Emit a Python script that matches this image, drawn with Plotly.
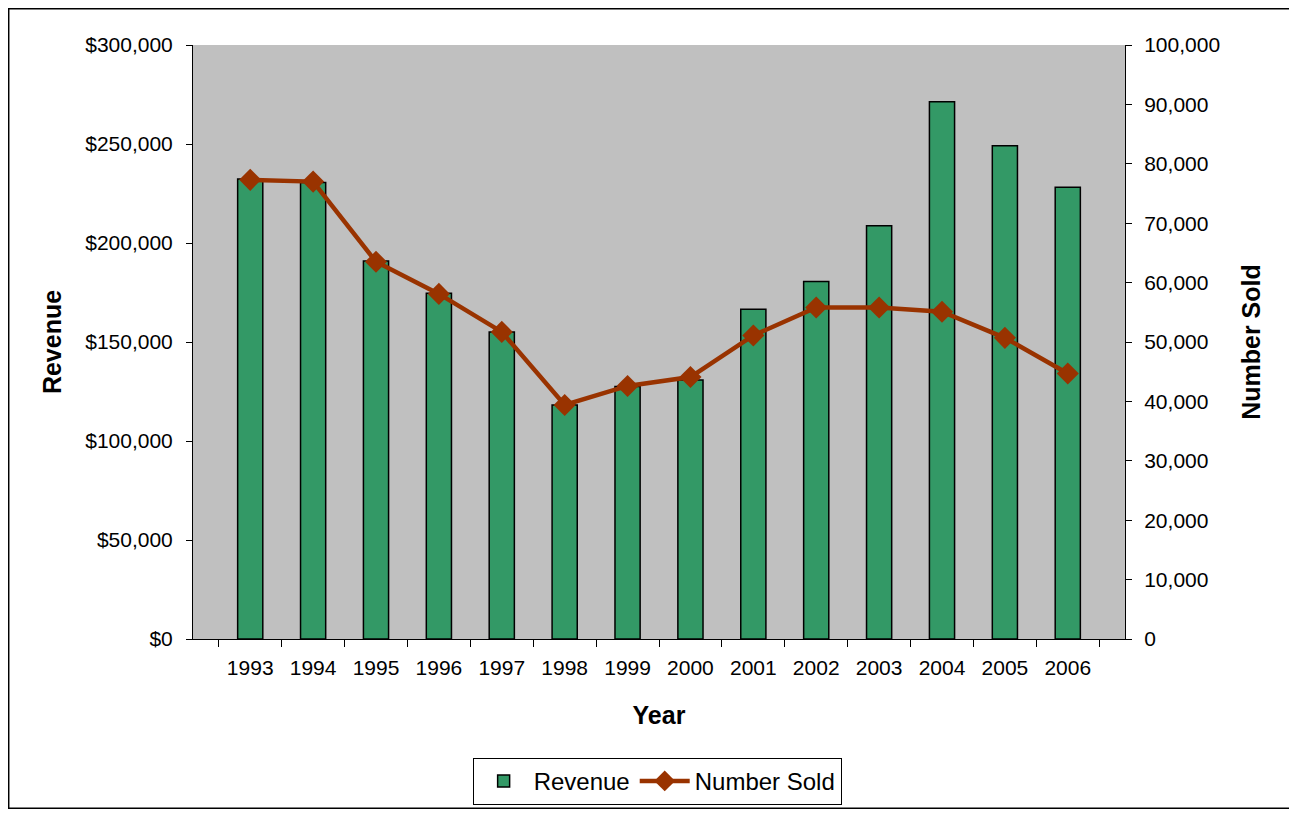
import plotly.graph_objects as go

# --- Data ---
years = ["1993", "1994", "1995", "1996", "1997", "1998", "1999",
         "2000", "2001", "2002", "2003", "2004", "2005", "2006"]
revenue = [232300, 230500, 190900, 174600, 155000, 118200, 127500,
           130800, 166500, 180500, 208700, 271400, 249100, 228100]
number_sold = [77300, 77000, 63500, 58100, 51700, 39400, 42600,
               44100, 51100, 55800, 55800, 55100, 50700, 44700]

FONT = "Liberation Sans, Arial, sans-serif"

fig = go.Figure()

# --- Revenue bars (left axis) ---
fig.add_trace(go.Bar(
    x=years,
    y=revenue,
    name="Revenue",
    marker=dict(color="#339966", line=dict(color="black", width=1.5)),
    yaxis="y",
))

# --- Number sold line (right axis) ---
fig.add_trace(go.Scatter(
    x=years,
    y=number_sold,
    name="Number Sold",
    mode="lines+markers",
    line=dict(color="#993300", width=4.5),
    marker=dict(symbol="diamond", size=17, color="#993300"),
    yaxis="y2",
))

# --- Layout (page body has an 8px margin, so the figure is sized to fit) ---
fig.update_layout(
    width=1288,
    height=801,
    margin=dict(l=185, r=171, t=37, b=170, autoexpand=False),
    paper_bgcolor="white",
    plot_bgcolor="#C0C0C0",
    font=dict(family=FONT, size=21, color="black"),
    bargap=0.6,
    showlegend=True,
    legend=dict(
        orientation="h",
        x=0.498, xanchor="center",
        y=-0.2, yanchor="top",
        bordercolor="black", borderwidth=1,
        font=dict(size=24),
        bgcolor="white",
        itemwidth=50,
    ),
    xaxis=dict(
        type="category",
        showline=True, linecolor="black", linewidth=1,
        ticks="outside", ticklen=7, tickcolor="black",
        tickson="boundaries",
        showgrid=False,
        ticklabelstandoff=10,
        title=dict(text="<b>Year</b>", font=dict(size=25), standoff=28),
    ),
    yaxis=dict(
        range=[0, 300000],
        dtick=50000,
        tickprefix="$",
        tickformat=",",
        showline=True, linecolor="black", linewidth=1,
        ticks="outside", ticklen=6, tickcolor="black",
        showgrid=False, zeroline=False,
        ticklabelstandoff=9,
        title=dict(text="<b>Revenue</b>", font=dict(size=25), standoff=16),
    ),
    yaxis2=dict(
        range=[0, 100000],
        dtick=10000,
        tickformat=",",
        overlaying="y",
        side="right",
        showline=True, linecolor="black", linewidth=1,
        ticks="outside", ticklen=6, tickcolor="black",
        showgrid=False, zeroline=False,
        ticklabelstandoff=8,
        title=dict(text="<b>Number Sold</b>", font=dict(size=25), standoff=23),
    ),
    shapes=[
        # outer chart frame
        dict(type="rect", xref="paper", yref="paper",
             x0=-0.198, x1=1.1824, y0=-0.2854, y1=1.0615,
             line=dict(color="black", width=2), layer="below"),
    ],
)

fig.write_html("out.html")
